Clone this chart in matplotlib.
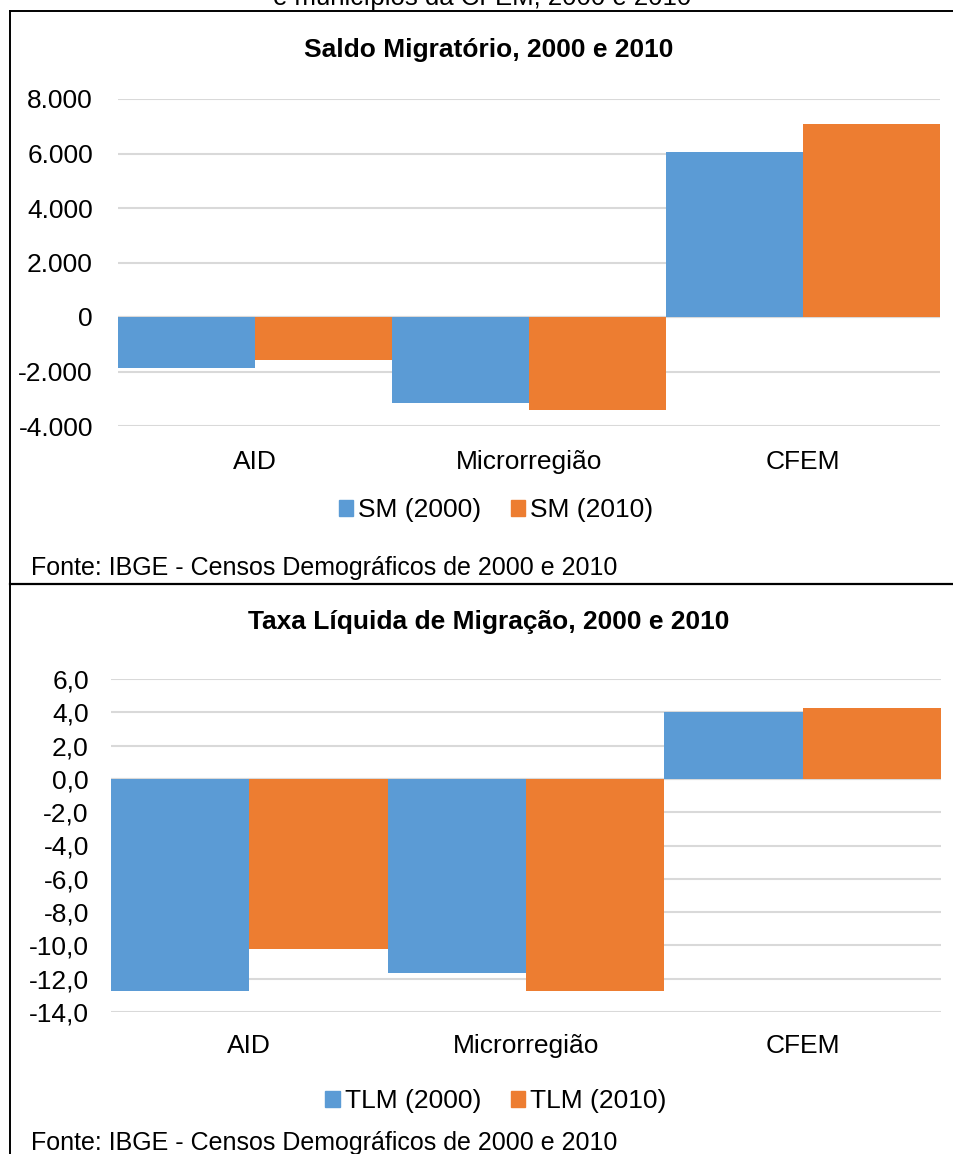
import matplotlib
matplotlib.use("Agg")
from matplotlib import pyplot as plt
from matplotlib.lines import Line2D
from matplotlib.patches import Patch
from matplotlib.ticker import FuncFormatter

# dados
categorias = ["AID", "Microrregião", "CFEM"]

sm_2000 = [-1870, -3170, 6050]
sm_2010 = [-1560, -3400, 7100]
sm_ticks = [-4000, -2000, 0, 2000, 4000, 6000, 8000]

tlm_2000 = [-12.74, -11.68, 4.0]
tlm_2010 = [-10.24, -12.76, 4.26]
tlm_ticks = [-14, -12, -10, -8, -6, -4, -2, 0, 2, 4, 6]

AZUL = "#5B9BD5"
LARANJA = "#ED7D31"
GRADE = "#D9D9D9"
FONTE = ["Liberation Sans", "DejaVu Sans"]
FS = 19

W, H = 954, 1154
plt.rcParams["font.family"] = FONTE


def fx(px):
    return px / W


def fy(py):
    return 1 - py / H


def fmt_milhar(v, _):
    s = f"{abs(v):,.0f}".replace(",", ".")
    return ("-" if v < 0 else "") + s


def fmt_decimal(v, _):
    s = f"{abs(v):.1f}".replace(".", ",")
    return ("-" if v < 0 else "") + s


def painel(ax, v2000, v2010, ticks, fmt, ylabel_pad, xlabel_pad):
    x = range(len(categorias))
    ax.bar([i - 0.25 for i in x], v2000, width=0.5, color=AZUL, zorder=3)
    ax.bar([i + 0.25 for i in x], v2010, width=0.5, color=LARANJA, zorder=3)
    ax.set_xlim(-0.5, len(categorias) - 0.5)
    ax.set_ylim(ticks[0], ticks[-1])
    ax.set_yticks(ticks)
    ax.yaxis.set_major_formatter(FuncFormatter(fmt))
    ax.set_xticks(list(x))
    ax.set_xticklabels(categorias)
    ax.grid(axis="y", color=GRADE, linewidth=1.5, zorder=0)
    ax.axhline(0, color=GRADE, linewidth=1.5, zorder=1)
    for sp in ax.spines.values():
        sp.set_visible(False)
    ax.tick_params(axis="y", length=0, pad=ylabel_pad, labelsize=FS)
    ax.tick_params(axis="x", length=0, pad=xlabel_pad, labelsize=FS)


fig = plt.figure(figsize=(W / 100, H / 100), dpi=100)

# painel superior: saldo migratório
ax1 = fig.add_axes([fx(118), fy(426), fx(940) - fx(118), fy(99) - fy(426)])
painel(ax1, sm_2000, sm_2010, sm_ticks, fmt_milhar, 18, 17)

# painel inferior: taxa líquida de migração
ax2 = fig.add_axes([fx(111), fy(1012), fx(941) - fx(111), fy(679) - fy(1012)])
painel(ax2, tlm_2000, tlm_2010, tlm_ticks, fmt_decimal, 16, 16)

fig.text(fx(482), fy(5), "e municípios da CFEM, 2000 e 2010", ha="center",
         va="baseline", fontsize=18.5)
fig.text(fx(489), fy(50), "Saldo Migratório, 2000 e 2010", ha="center",
         va="center", fontsize=FS, fontweight="bold")
fig.text(fx(489), fy(622), "Taxa Líquida de Migração, 2000 e 2010", ha="center",
         va="center", fontsize=FS, fontweight="bold")

for ycen, rot in [(510, "SM"), (1101, "TLM")]:
    handles = [Patch(color=AZUL, label=f"{rot} (2000)"),
               Patch(color=LARANJA, label=f"{rot} (2010)")]
    fig.legend(handles=handles, loc="center", bbox_to_anchor=(fx(496), fy(ycen)),
               ncol=2, frameon=False, fontsize=FS, handlelength=0.55,
               handleheight=0.55, handletextpad=0.2, columnspacing=1.1)

for ycen in [568, 1143]:
    fig.text(fx(31), fy(ycen), "Fonte: IBGE - Censos Demográficos de 2000 e 2010",
             ha="left", va="center", fontsize=18)

# molduras
fig.add_artist(Line2D([fx(10), fx(10)], [fy(11), fy(1154)], color="black", lw=1.4))
fig.add_artist(Line2D([fx(10), fx(954)], [fy(11), fy(11)], color="black", lw=1.4))
fig.add_artist(Line2D([fx(10), fx(954)], [fy(584), fy(584)], color="black", lw=1.6))

fig.savefig("out.png", dpi=100)
